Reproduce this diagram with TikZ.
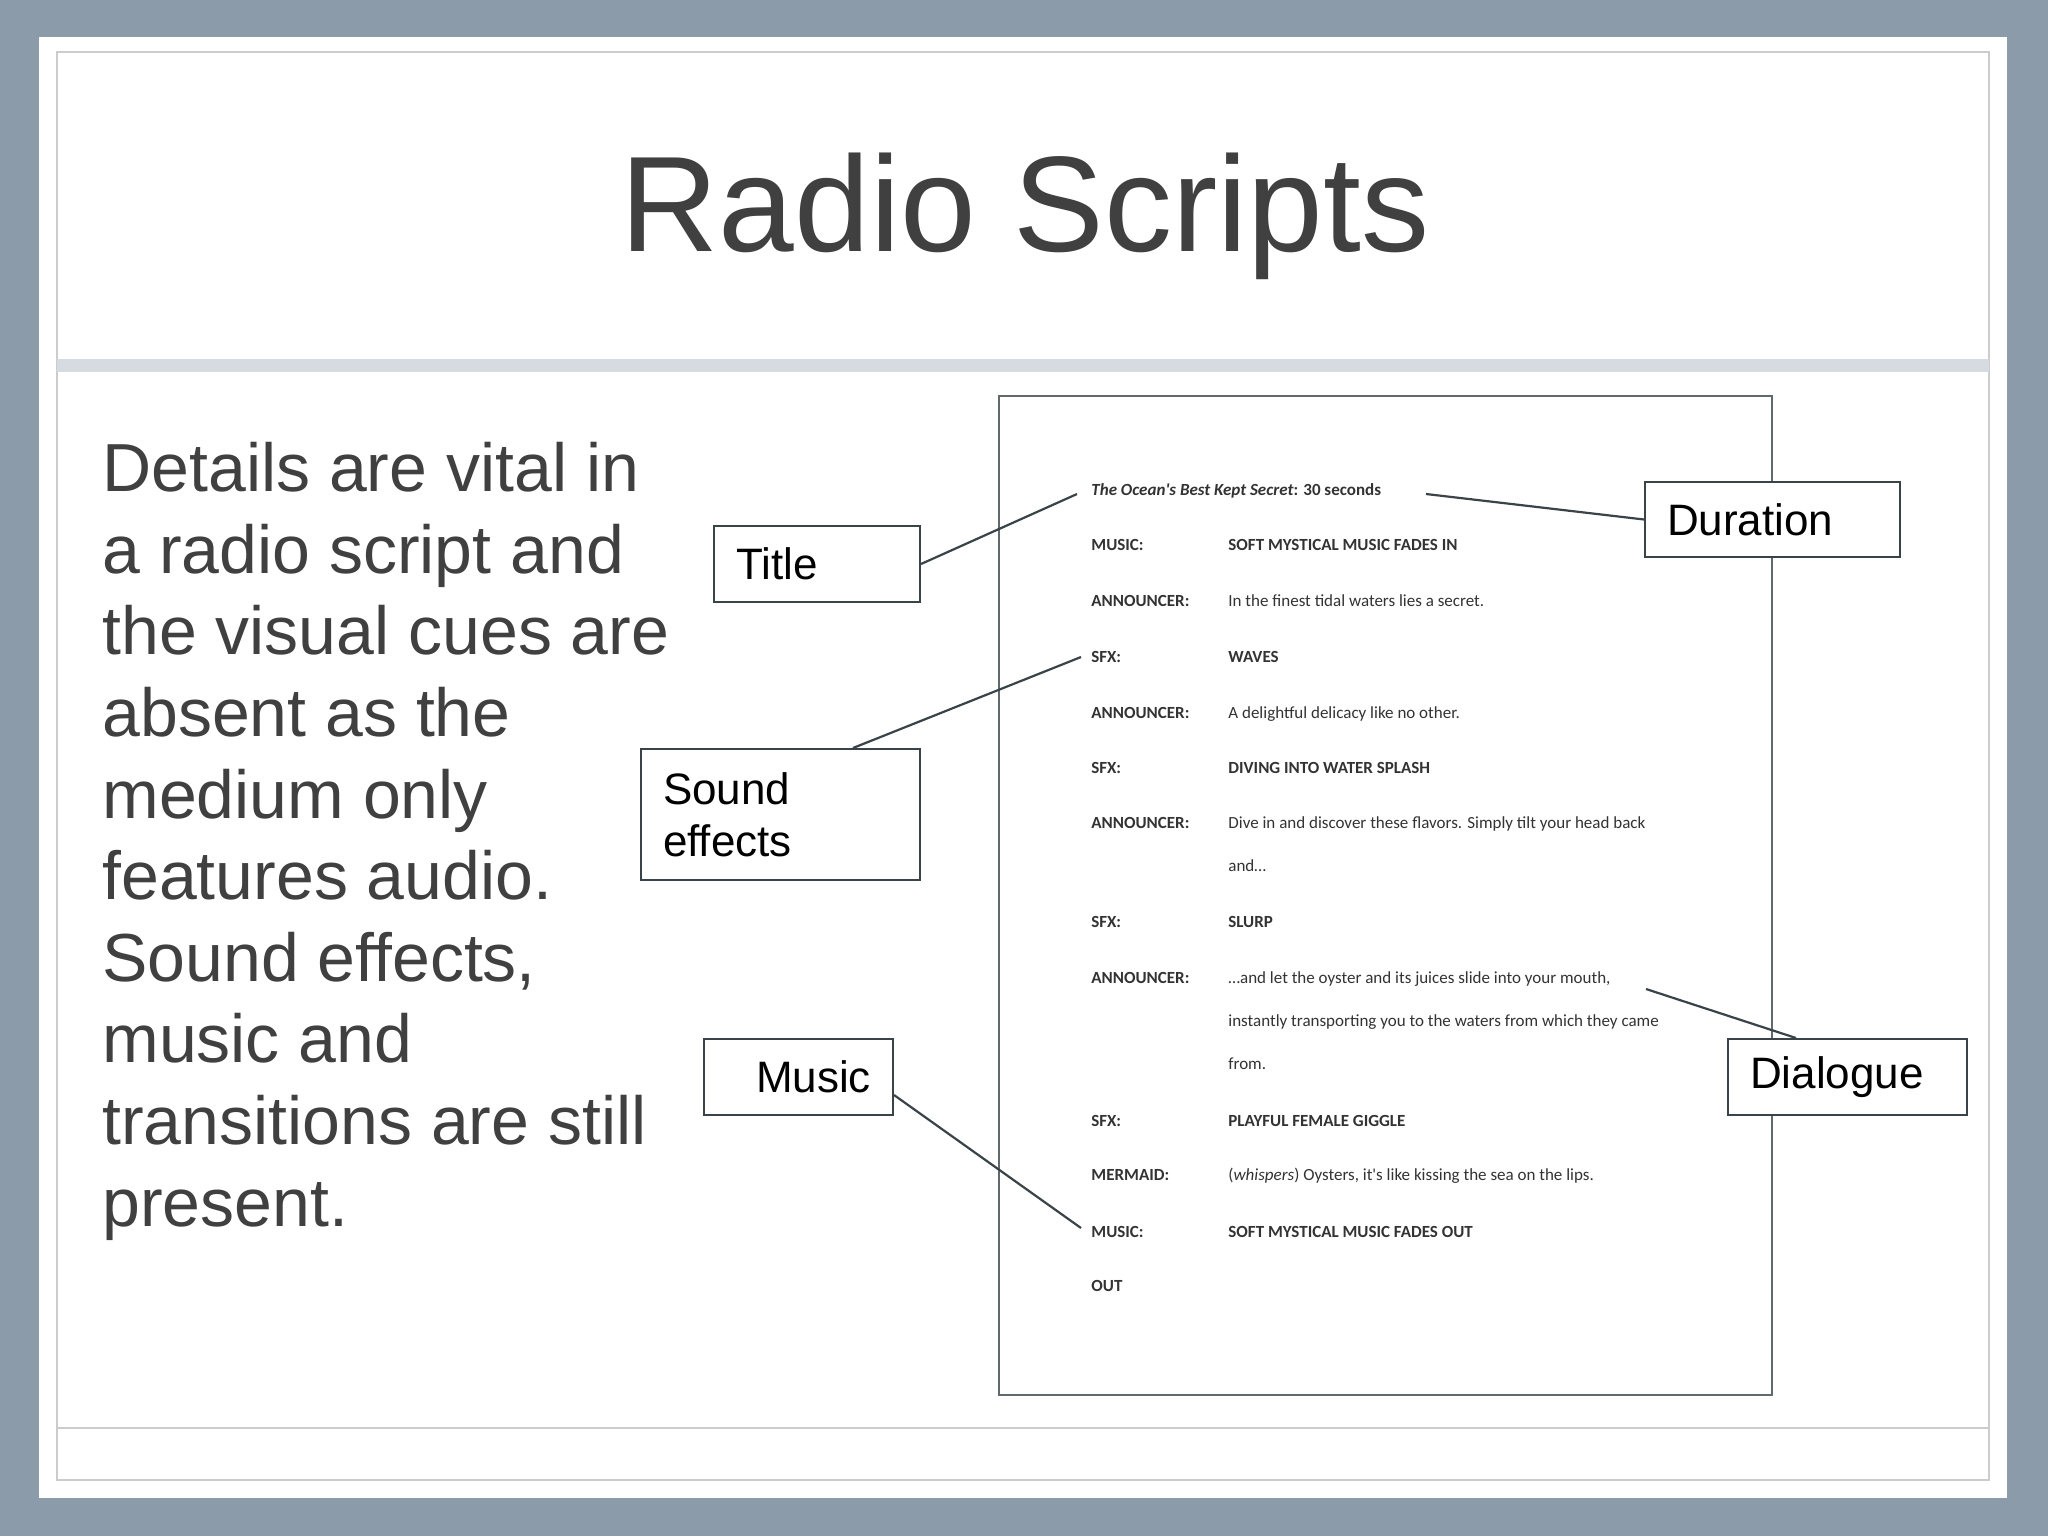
\documentclass[tikz,border=0pt]{standalone}
\usepackage{fontspec}
\setmainfont{Liberation Sans}
\newfontfamily\carl{Carlito}
\definecolor{bgblue}{HTML}{8C9BA9}
\definecolor{txt}{HTML}{404040}
\definecolor{band}{HTML}{D5DBE0}
\definecolor{ln}{HTML}{3A4448}
\tikzset{
  callout/.style={draw=ln,line width=1pt,fill=white,anchor=north west,inner sep=0pt},
  cline/.style={draw=ln,line width=1.1pt},
  lab/.style={anchor=base west,font=\carl\bfseries\fontsize{8.5}{9}\selectfont,text=black!80,inner sep=0pt},
  val/.style={anchor=base west,font=\carl\fontsize{8.5}{9}\selectfont,text=black!80,inner sep=0pt},
  valb/.style={anchor=base west,font=\carl\bfseries\fontsize{8.5}{9}\selectfont,text=black!80,inner sep=0pt},
}
\begin{document}
\begin{tikzpicture}[x=0.5pt,y=-0.5pt]
\useasboundingbox (0,0) rectangle (2048,1536);
\fill[bgblue] (0,0) rectangle (2048,1536);
\fill[white] (39,37) rectangle (2007,1498);
\draw[gray!40,line width=1pt] (57,52) rectangle (1989,1480);
\fill[band] (57,359) rectangle (1989,372);
\draw[gray!40,line width=1pt] (57,1428) -- (1989,1428);
\node[text=txt,font=\fontsize{68}{80}\selectfont] (title) at (1025,216) {Radio Scripts};
\node[anchor=north west,text=txt,font=\fontsize{34}{40.8}\selectfont,align=left,inner sep=0pt] (body) at (102,442)
 {Details are vital in\\a radio script and\\the visual cues are\\absent as the\\medium only\\features audio.\\Sound effects,\\music and\\transitions are still\\present.};
% script page
\draw[ln!80,line width=1pt] (999,396) rectangle (1772,1395);
\begin{scope}[yshift=-2.5pt]
\node[anchor=base west,font=\carl\bfseries\fontsize{8.5}{9}\selectfont,inner sep=0pt,text=black!80] (st) at (1091,490) {\textit{The Ocean's Best Kept Secret}: 30 seconds};
\node[lab] (l1) at (1091,545) {MUSIC:};      \node[valb] at (1228,545) {SOFT MYSTICAL MUSIC FADES IN};
\node[lab] (l2) at (1091,601) {ANNOUNCER:};  \node[val] at (1228,601) {In the finest tidal waters lies a secret.};
\node[lab] (l3) at (1091,657) {SFX:};        \node[valb] at (1228,657) {WAVES};
\node[lab] (l4) at (1091,713) {ANNOUNCER:};  \node[val] at (1228,713) {A delightful delicacy like no other.};
\node[lab] (l5) at (1091,768) {SFX:};        \node[valb] at (1228,768) {DIVING INTO WATER SPLASH};
\node[lab] (l6) at (1091,823) {ANNOUNCER:};  \node[val] at (1228,823) {Dive in and discover these flavors. Simply tilt your head back};
\node[val] at (1228,866) {and\ldots};
\node[lab] (l7) at (1091,922) {SFX:};        \node[valb] at (1228,922) {SLURP};
\node[lab] (l8) at (1091,978) {ANNOUNCER:};  \node[val] at (1228,978) {\ldots and let the oyster and its juices slide into your mouth,};
\node[val] at (1228,1021) {instantly transporting you to the waters from which they came};
\node[val] at (1228,1064) {from.};
\node[lab] (l9) at (1091,1121) {SFX:};       \node[valb] at (1228,1121) {PLAYFUL FEMALE GIGGLE};
\node[lab] (l10) at (1091,1175) {MERMAID:};  \node[val] at (1228,1175) {(\textit{whispers}) Oysters, it's like kissing the sea on the lips.};
\node[lab] (l11) at (1091,1232) {MUSIC:};    \node[valb] at (1228,1232) {SOFT MYSTICAL MUSIC FADES OUT};
\node[lab] (l12) at (1091,1286) {OUT};
\end{scope}
% callouts
\node[callout,minimum width=103pt,minimum height=38pt] (bt) at (713,525) {};
\node[anchor=west,font=\fontsize{22}{26}\selectfont] at ([xshift=8pt]bt.west) {Title};
\node[callout,minimum width=127.5pt,minimum height=37.5pt] (bd) at (1644,481) {};
\node[anchor=west,font=\fontsize{22}{26}\selectfont] at ([xshift=8pt]bd.west) {Duration};
\node[callout,minimum width=139.5pt,minimum height=65.5pt] (bs) at (640,748) {};
\node[anchor=west,font=\fontsize{22}{26}\selectfont,align=left] at ([xshift=8pt]bs.west) {Sound\\effects};
\node[callout,minimum width=94.5pt,minimum height=38pt] (bm) at (703,1038) {};
\node[anchor=east,font=\fontsize{22}{26}\selectfont] at ([xshift=-8pt]bm.east) {Music};
\node[callout,minimum width=119.5pt,minimum height=38pt] (bdl) at (1727,1038) {};
\node[anchor=west,font=\fontsize{22}{26}\selectfont] at ([xshift=8pt]bdl.west) {Dialogue};
% connectors
\coordinate (ct) at (1077,494);
\coordinate (cd) at (1426,494);
\coordinate (cs) at (1081,657);
\coordinate (cm) at (1081,1228);
\coordinate (cdl) at (1646,989);
\coordinate (bs1) at (853,748);
\coordinate (bdl1) at (1796,1038);
\draw[cline] (bt.east) -- (ct);
\draw[cline] (bd.west) -- (cd);
\draw[cline] (bs1) -- (cs);
\draw[cline] ([yshift=-9pt]bm.east) -- (cm);
\draw[cline] (bdl1) -- (cdl);
\end{tikzpicture}
\end{document}
